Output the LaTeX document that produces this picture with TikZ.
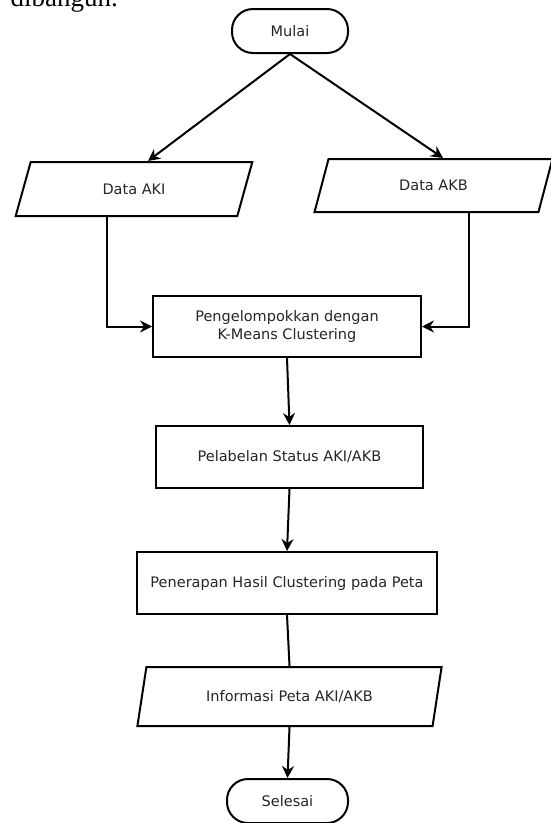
\documentclass[tikz,border=0pt]{standalone}
\usepackage{fontspec}
\setmainfont{DejaVu Sans}
\newfontfamily\serifpart{Liberation Serif}
\usetikzlibrary{shapes.geometric,arrows.meta}
\begin{document}
\begin{tikzpicture}[x=1pt,y=-1pt,
  every node/.style={font=\fontsize{14.5}{18}\selectfont, inner sep=0pt, text=black!85},
  shape line/.style={draw=black, line width=2pt, fill=white},
  terminal/.style={shape line, rectangle, rounded corners=21pt, minimum height=44pt},
  procbox/.style={shape line, rectangle, minimum height=62pt, align=center},
  iobox/.style={shape line, trapezium, trapezium left angle=67, trapezium right angle=113,
    trapezium stretches=true},
  conn/.style={line width=2pt, draw=black},
  arr/.style={conn, -{Stealth[length=12pt,width=12pt,inset=4pt]}}
]
\useasboundingbox (0,0) rectangle (551,823);
\fill[white] (0,0) rectangle (551,823);
\begin{scope}
\clip (0,0) rectangle (551,823);
\node[anchor=base east, text=black, font=\serifpart\fontsize{27}{30}\selectfont] (cap) at (118,6) {dibangun.};

\node[terminal, minimum width=116pt] (start) at (290,31) {Mulai};
\node[iobox, minimum width=238pt, minimum height=54pt] (aki) at (134,189) {Data AKI};
\node[iobox, minimum width=239pt, minimum height=53pt] (akb) at (433.5,185.5) {Data AKB};
\node[procbox, minimum width=268pt, minimum height=61pt] (kmeans) at (287,326.5) {Pengelompokkan dengan\\K-Means Clustering};
\node[procbox, minimum width=267pt] (label) at (289.5,457) {Pelabelan Status AKI/AKB};
\node[procbox, minimum width=300pt] (apply) at (287,583) {Penerapan Hasil Clustering pada Peta};
\node[iobox, minimum width=305pt, minimum height=59pt] (info) at (289.5,696.5) {Informasi Peta AKI/AKB};
\node[terminal, minimum width=121pt] (stop) at (287.5,801) {Selesai};

\draw[arr] (start.south) -- ([xshift=14pt]aki.north);
\draw[arr] (start.south) -- ([xshift=9.5pt]akb.north);
\draw[arr] ([xshift=-27pt]aki.south) |- (kmeans.west);
\draw[arr] ([xshift=35.5pt]akb.south) |- (kmeans.east);
\draw[arr] (kmeans.south) -- (label.north);
\draw[arr] (label.south) -- (apply.north);
\draw[conn] (apply.south) -- (info.north);
\draw[arr] (info.south) -- (stop.north);
\end{scope}
\end{tikzpicture}
\end{document}
